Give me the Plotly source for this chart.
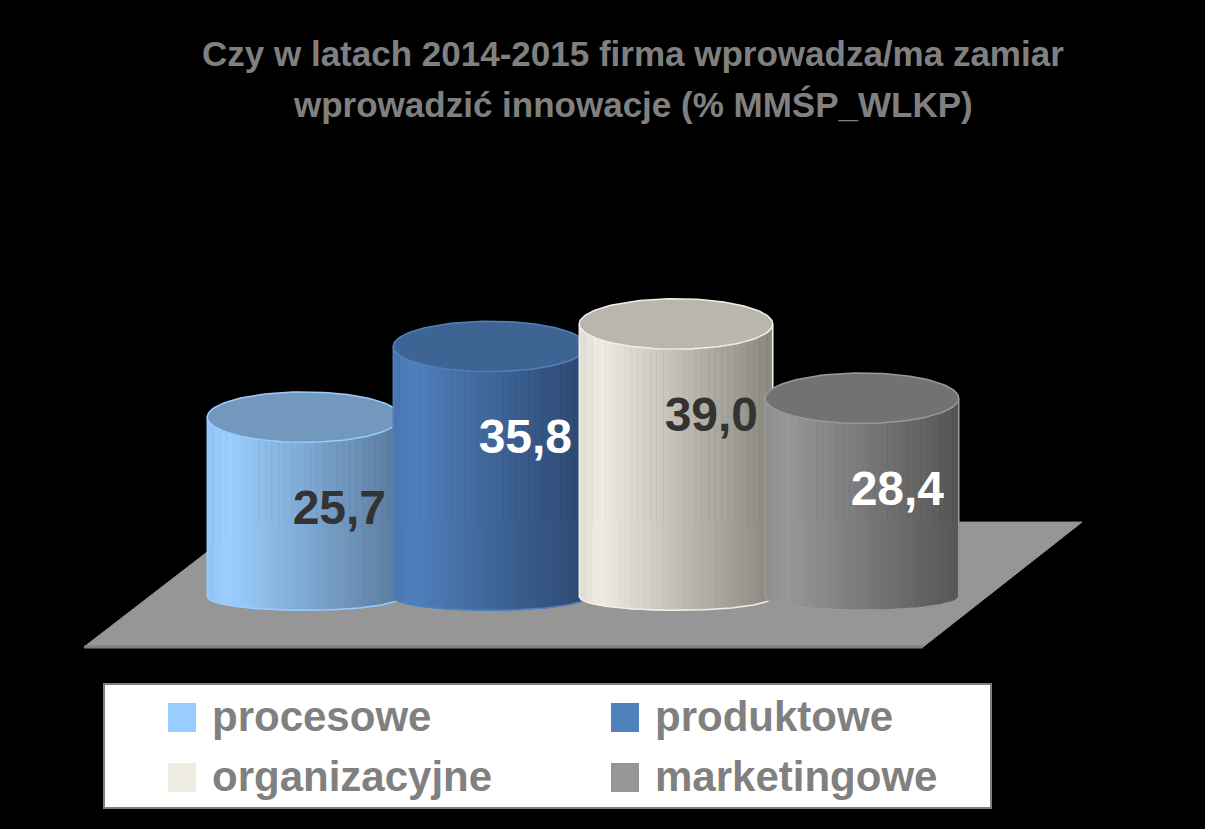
import numpy as np
import plotly.graph_objects as go

# %% data
categories = ["procesowe", "produktowe", "organizacyjne", "marketingowe"]
values = [25.7, 35.8, 39.0, 28.4]
value_labels = ["25,7", "35,8", "39,0", "28,4"]

# %% styles
label_colors = ["#333333", "#ffffff", "#333333", "#ffffff"]
light_colors = ["#9ccfff", "#4f7fbd", "#efede3", "#989898"]
dark_colors = ["#5a7a9c", "#2c4870", "#8a877e", "#555555"]
top_colors = ["#7298be", "#3e6494", "#b9b6ad", "#727272"]
edge_colors = ["#99ccff", "#4f81bd", "#f2f0e6", "#9a9a9a"]
legend_colors = ["#99ccff", "#4f81bd", "#eeece1", "#969696"]

title_lines = ["Czy w latach 2014-2015 firma wprowadza/ma zamiar",
               "wprowadzić innowacje (% MMŚP_WLKP)"]

W, H = 1205, 829
SANS = "Liberation Sans, Arial"

HW = 0.52      # cylinder half width (category units)
B_TOP = 3.6    # top ellipse half height (value units)
B_BOT = 1.9    # bottom ellipse half height
N_STRIPS = 30


def hex_rgb(h):
    h = h.lstrip('#')
    return [int(h[j:j + 2], 16) for j in (0, 2, 4)]


def mix(c1, c2, t):
    a, b = hex_rgb(c1), hex_rgb(c2)
    return 'rgb(%d,%d,%d)' % tuple(round(a[j] + (b[j] - a[j]) * t) for j in range(3))


def px_x(p):
    return p / W


def px_y(p):
    return 1 - p / H


fig = go.Figure()

# %% cylinders
for i, v in enumerate(values):
    edges = np.linspace(-1, 1, N_STRIPS + 1)
    for k in range(N_STRIPS):
        u = np.linspace(edges[k], edges[k + 1], 5)
        s = np.sqrt(np.clip(1 - u ** 2, 0, None))
        xs = i + HW * u
        bot = -B_BOT * s
        top = v - B_TOP * s
        t = (k + 0.5) / N_STRIPS
        w = 0.15 * (1 - t / 0.1) if t < 0.1 else (t - 0.1) / 0.9
        col = mix(light_colors[i], dark_colors[i], w)
        fig.add_trace(go.Scatter(
            x=np.concatenate([xs, xs[::-1]]), y=np.concatenate([bot, top[::-1]]),
            fill='toself', fillcolor=col, mode='lines', line=dict(color=col, width=1),
            hoverinfo='skip', showlegend=False))

    # silhouette outline
    u = np.linspace(-1, 1, 80)
    s = np.sqrt(1 - u ** 2)
    fig.add_trace(go.Scatter(
        x=np.concatenate([[i - HW], i + HW * u, [i + HW]]),
        y=np.concatenate([[v], -B_BOT * s, [v]]),
        mode='lines', line=dict(color=edge_colors[i], width=1.5),
        hoverinfo='skip', showlegend=False))

    # top face
    th = np.linspace(0, 2 * np.pi, 120)
    fig.add_trace(go.Scatter(
        x=i + HW * np.cos(th), y=v + B_TOP * np.sin(th),
        fill='toself', fillcolor=top_colors[i], mode='lines',
        line=dict(color=edge_colors[i], width=1.5),
        hoverinfo='skip', showlegend=False))

    # value label
    fig.add_trace(go.Scatter(
        x=[i + 0.19], y=[v - 13.5], mode='text', text=['<b>%s</b>' % value_labels[i]],
        textfont=dict(size=48, color=label_colors[i], family=SANS),
        hoverinfo='skip', showlegend=False))

# %% floor
floor = [(-1.183, -7.14), (3.328, -7.14), (4.183, 10.7), (-0.312, 10.7)]
path = 'M ' + ' L '.join('%f,%f' % p for p in floor) + ' Z'
fig.add_shape(type='path', path=path, xref='x', yref='y', fillcolor='#969696',
              line=dict(color='#969696', width=1), layer='below')
fig.add_shape(type='line', x0=floor[0][0], y0=floor[0][1], x1=floor[1][0], y1=floor[1][1],
              xref='x', yref='y', line=dict(color='#7f7f7f', width=3), layer='below')

# %% legend (drawn by hand, two columns)
fig.add_shape(type='rect', xref='paper', yref='paper',
              x0=px_x(104), x1=px_x(991), y0=px_y(808), y1=px_y(684),
              fillcolor='white', line=dict(color='#808080', width=2))
col_x = [168, 611]
row_y = [703, 763]
for k, name in enumerate(categories):
    cx = col_x[k % 2]
    ry = row_y[k // 2]
    fig.add_shape(type='rect', xref='paper', yref='paper',
                  x0=px_x(cx), x1=px_x(cx + 28), y0=px_y(ry + 29), y1=px_y(ry),
                  fillcolor=legend_colors[k], line=dict(width=0))
    fig.add_annotation(x=px_x(cx + 42), y=px_y(ry + 13), xref='paper', yref='paper',
                       xanchor='left', yanchor='middle', showarrow=False,
                       text='<b>%s</b>' % name,
                       font=dict(size=42, color='#808080', family=SANS))

# %% title
for line, cy in zip(title_lines, [53, 105]):
    fig.add_annotation(x=px_x(633), y=px_y(cy), xref='paper', yref='paper',
                       xanchor='center', yanchor='middle', showarrow=False,
                       text='<b>%s</b>' % line,
                       font=dict(size=35, color='#808080', family=SANS))

fig.update_layout(
    width=W, height=H,
    margin=dict(l=0, r=0, t=0, b=0),
    paper_bgcolor='black', plot_bgcolor='black',
    xaxis=dict(range=[-304 / 186, (W - 304) / 186], visible=False, fixedrange=True),
    yaxis=dict(range=[-(H - 597) / 7, 597 / 7], visible=False, fixedrange=True),
    showlegend=False,
)

fig.write_html("out.html", config={'displayModeBar': False},
               post_script="document.body.style.margin='0';")
